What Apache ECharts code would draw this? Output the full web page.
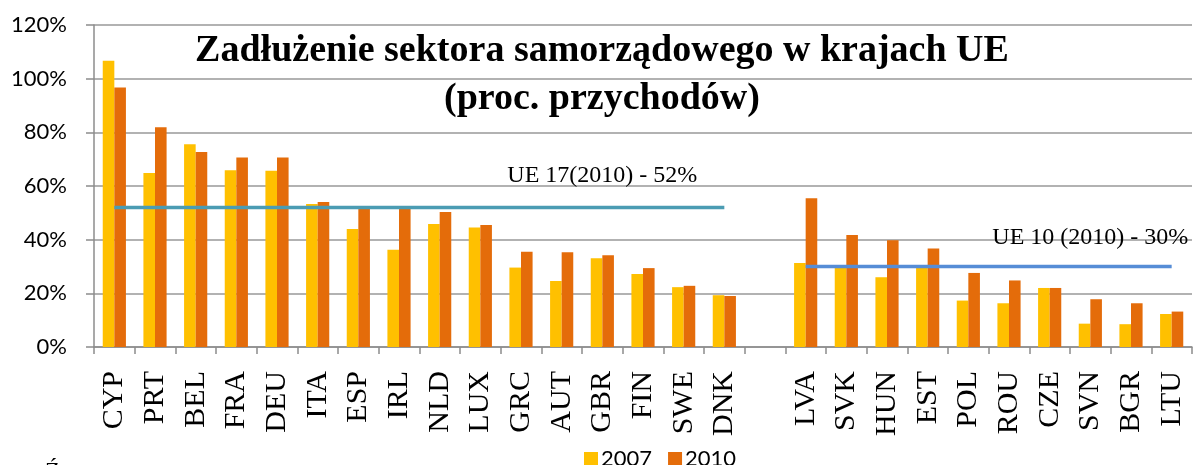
<!DOCTYPE html>
<html>
<head>
<meta charset="utf-8">
<script src="https://cdn.jsdelivr.net/npm/echarts@6/dist/echarts.min.js"></script>
<style>
	html, body { margin: 0; padding: 0; background: #fff; }
	#chart-bar-id { width: 1195px; height: 465px; }
</style>
</head>
<body>
<div id="chart-bar-id"></div>
<script>
'use strict';

// kraje UE17, przerwa, kraje UE10
var countries = ['CYP', 'PRT', 'BEL', 'FRA', 'DEU', 'ITA', 'ESP', 'IRL', 'NLD', 'LUX', 'GRC', 'AUT', 'GBR', 'FIN', 'SWE', 'DNK',
	'', 'LVA', 'SVK', 'HUN', 'EST', 'POL', 'ROU', 'CZE', 'SVN', 'BGR', 'LTU'];
var debt2007 = [106.7, 64.8, 75.6, 65.9, 65.7, 53.3, 44.0, 36.2, 45.8, 44.5, 29.6, 24.6, 33.1, 27.2, 22.3, 19.3,
	'-', 31.3, 29.5, 26.0, 29.5, 17.3, 16.3, 22.0, 8.7, 8.5, 12.3];
var debt2010 = [96.7, 81.9, 72.7, 70.6, 70.6, 54.0, 52.0, 52.0, 50.3, 45.5, 35.5, 35.3, 34.2, 29.4, 22.8, 19.0,
	'-', 55.4, 41.7, 39.8, 36.7, 27.6, 24.8, 22.0, 17.8, 16.3, 13.2];
var avgUE17 = [52, 52, 52, 52, 52, 52, 52, 52, 52, 52, 52, 52, 52, 52, 52, 52,
	'-', '-', '-', '-', '-', '-', '-', '-', '-', '-', '-'];
var avgUE10 = ['-', '-', '-', '-', '-', '-', '-', '-', '-', '-', '-', '-', '-', '-', '-', '-',
	'-', 30, 30, 30, 30, 30, 30, 30, 30, 30, 30];
var yTicks = [0, 20, 40, 60, 80, 100, 120];
var legendNames = ['2007', '2010'];
var colorList = ['#ffc000', '#e46c0a'];

var serif = '"Liberation Serif", "DejaVu Serif", serif';
var sans = 'Lato, "Open Sans", sans-serif';

// etykieta tylko przy jednym punkcie linii
var withLabel = function(list, index, text, distance) {
	return list.map(function(v, i) {
		if (i !== index) return v;
		return {
			value: v,
			label: {
				show: true,
				position: 'top',
				distance: distance,
				formatter: text,
				color: '#000',
				fontFamily: serif,
				fontSize: 24
			}
		};
	});
};

var el = document.getElementById('chart-bar-id');
var barChart = echarts.init(el);
barChart.setOption({
	animation: false,
	color: colorList,
	title: {
		text: 'Zadłużenie sektora samorządowego w krajach UE\n(proc. przychodów)',
		left: 597,
		top: 22,
		textAlign: 'center',
		textStyle: {
			fontFamily: serif,
			fontWeight: 'bold',
			fontSize: 38,
			lineHeight: 48,
			color: '#000'
		}
	},
	legend: {
		left: 579,
		top: 443,
		itemWidth: 14,
		itemHeight: 14,
		itemGap: 16,
		icon: 'rect',
		textStyle: {
			fontFamily: sans,
			fontSize: 22,
			color: '#000',
			padding: [0, 0, 0, -2]
		},
		data: legendNames
	},
	grid: {
		left: 94,
		right: 3,
		top: 25,
		bottom: 118,
		containLabel: false
	},
	xAxis: {
		type: 'category',
		data: countries,
		axisLine: { lineStyle: { color: '#8c8c8c', width: 1.5 } },
		axisTick: { show: true, interval: 0, length: 7, lineStyle: { color: '#8c8c8c', width: 1.5 } },
		axisLabel: {
			interval: 0,
			rotate: 90,
			margin: 24,
			color: '#000',
			fontFamily: serif,
			fontSize: 30
		}
	},
	yAxis: {
		type: 'value',
		min: yTicks[0],
		max: yTicks[yTicks.length - 1],
		interval: 20,
		axisLine: { show: true, lineStyle: { color: '#8c8c8c', width: 1.5 } },
		axisTick: { show: true, length: 8, lineStyle: { color: '#8c8c8c', width: 1.5 } },
		splitLine: { show: true, lineStyle: { color: '#999', width: 1.5 } },
		axisLabel: {
			margin: 27,
			color: '#000',
			fontFamily: sans,
			fontSize: 22,
			formatter: '{value}%'
		}
	},
	series: [
		{
			name: legendNames[0],
			type: 'bar',
			barGap: 0,
			barCategoryGap: '43%',
			data: debt2007
		},
		{
			name: legendNames[1],
			type: 'bar',
			barGap: 0,
			barCategoryGap: '43%',
			data: debt2010
		},
		{
			name: 'UE 17',
			type: 'line',
			symbol: 'circle',
			symbolSize: 0,
			showSymbol: true,
			showAllSymbol: true,
			itemStyle: { color: '#4b9cb3' },
			lineStyle: { color: '#4b9cb3', width: 3.5 },
			data: withLabel(avgUE17, 12, 'UE 17(2010) - 52%', 20)
		},
		{
			name: 'UE 10',
			type: 'line',
			symbol: 'circle',
			symbolSize: 0,
			showSymbol: true,
			showAllSymbol: true,
			itemStyle: { color: '#568dd6' },
			lineStyle: { color: '#568dd6', width: 3.5 },
			data: withLabel(avgUE10, 24, 'UE 10 (2010) - 30%', 17)
		}
	],
	graphic: [
		{
			type: 'text',
			left: 45,
			top: 460,
			style: { text: 'Ź', fontFamily: serif, fontSize: 24, fill: '#000' }
		}
	]
});
</script>
</body>
</html>
